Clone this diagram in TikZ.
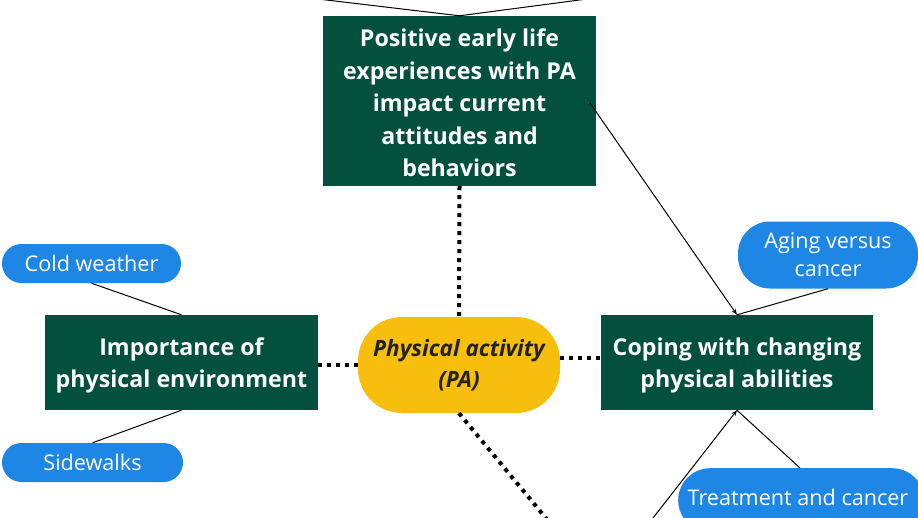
\documentclass[tikz,border=0pt]{standalone}
\usepackage{fontspec}
\setmainfont{Open Sans}
\usetikzlibrary{arrows.meta}
\definecolor{dkgreen}{HTML}{03503F}
\definecolor{pillblue}{HTML}{1E87E5}
\definecolor{pillyellow}{HTML}{F8BE0D}
\definecolor{pacol}{HTML}{222222}
\tikzset{
  greenbox/.style={draw=none, fill=dkgreen, text=white, font=\fontsize{23.2}{32.5}\selectfont\bfseries, align=center, inner sep=0pt},
  bluepill/.style={draw=none, fill=pillblue, text=white, font=\fontsize{21.6}{28}\selectfont, align=center, inner sep=0pt},
  dotline/.style={line width=4pt, dash pattern=on 4pt off 5pt, black},
  thinline/.style={line width=1pt, black},
  arrline/.style={line width=1pt, black, -{Stealth[length=6pt,width=4.5pt]}}
}
\begin{document}
\begin{tikzpicture}[x=1pt,y=-1pt]
\useasboundingbox (0,0) rectangle (918,517);
\fill[white] (0,0) rectangle (918,517);
\begin{scope}
\clip (0,0) rectangle (918,517);
% main boxes
\node[greenbox, minimum width=273pt, minimum height=170pt] (top) at (459.5,101) {};
\node[greenbox] (toptxt) at (459.5,103)
  {Positive early life\\experiences with PA\\impact current\\attitudes and\\behaviors};
\node[greenbox, minimum width=273pt, minimum height=95pt] (left) at (181.5,362.5) {};
\node[greenbox] (lefttxt) at (181.5,365.5) {Importance of\\physical environment};
\node[greenbox, minimum width=272pt, minimum height=95pt] (right) at (737,362.5) {};
\node[greenbox] (righttxt) at (737,365.5) {Coping with changing\\physical abilities};
\node[draw=none, fill=pillyellow, text=pacol, rounded corners=44pt, minimum width=202pt, minimum height=96pt, inner sep=0pt, align=center, font=\fontsize{22.5}{31}\selectfont\bfseries\itshape] (pa) at (459,365)
  {Physical activity\\(PA)};
% blue pills
\node[bluepill, rounded corners=19.5pt, minimum width=179pt, minimum height=39pt] (cold) at (91.5,263.5) {Cold weather};
\node[bluepill, rounded corners=19.5pt, minimum width=181pt, minimum height=39pt] (side) at (92.5,462.5) {Sidewalks};
\node[bluepill, rounded corners=32pt, minimum width=180pt, minimum height=67pt] (aging) at (828,255) {Aging versus\\cancer};
\node[bluepill, rounded corners=32pt, minimum width=246pt, minimum height=64pt, anchor=north west] (treat) at (678,468) {};
\node[bluepill, fill=none] (treattxt) at (798,497) {Treatment and cancer};
% off-picture ends
\coordinate (topL) at (318,-1);
\coordinate (topR) at (587,-1);
\coordinate (topsrc) at (590,103);
\coordinate (botsrc) at (646,527);
\coordinate (dotend) at (550,523);
\coordinate (rdot) at (601,358);
\coordinate (ldot) at (318,365);
% connectors
\draw[thinline] (topL) -- (top.north) -- (topR);
\draw[thinline] (cold.south) -- (left.north);
\draw[thinline] (side.north) -- (left.south);
\draw[thinline] (aging.south) -- (right.north);
\draw[thinline] (800,468) -- (right.south);
\draw[arrline] (topsrc) -- (right.north);
\draw[arrline] (botsrc) -- (right.south);
% dotted
\draw[dotline] (top.south) -- (pa.north);
\draw[dotline] (ldot) -- (ldot -| pa.west);
\draw[dotline] (rdot -| pa.east) -- (rdot);
\draw[dotline] (pa.south) -- (dotend);
\end{scope}
\end{tikzpicture}
\end{document}
